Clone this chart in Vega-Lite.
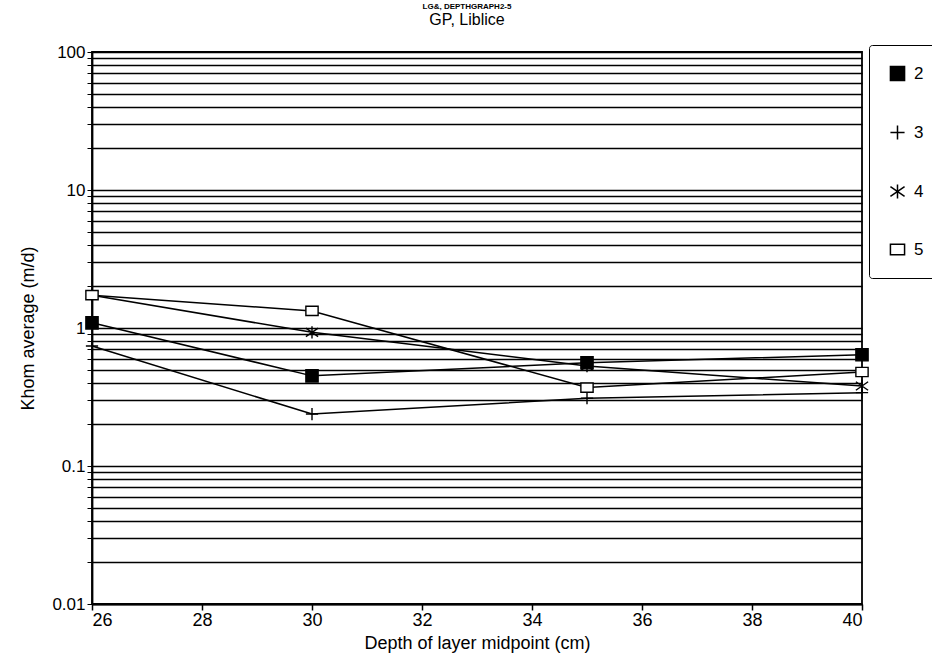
{
  "$schema": "https://vega.github.io/schema/vega-lite/v6.json",
  "autosize": "none",
  "width": 770,
  "height": 552,
  "padding": {"left": 92, "top": 52, "right": 70, "bottom": 57},
  "background": "white",
  "config": {
    "font": "Liberation Sans",
    "view": {"stroke": "black", "strokeWidth": 1.8}
  },
  "title": {
    "text": "LG&, DEPTHGRAPH2-5",
    "subtitle": "GP, Liblice",
    "fontSize": 8,
    "fontWeight": "bold",
    "subtitleFontSize": 16,
    "subtitleColor": "black",
    "color": "black",
    "offset": 15,
    "subtitlePadding": 1,
    "anchor": "middle",
    "dx": -10
  },
  "data": {
    "values": [
      {"series": "2", "depth": 26, "khom": 1.09},
      {"series": "2", "depth": 30, "khom": 0.45},
      {"series": "2", "depth": 35, "khom": 0.56},
      {"series": "2", "depth": 40, "khom": 0.64},
      {"series": "3", "depth": 26, "khom": 0.74},
      {"series": "3", "depth": 30, "khom": 0.238},
      {"series": "3", "depth": 35, "khom": 0.31},
      {"series": "3", "depth": 40, "khom": 0.34},
      {"series": "4", "depth": 26, "khom": 1.73},
      {"series": "4", "depth": 30, "khom": 0.93},
      {"series": "4", "depth": 35, "khom": 0.53},
      {"series": "4", "depth": 40, "khom": 0.38},
      {"series": "5", "depth": 26, "khom": 1.73},
      {"series": "5", "depth": 30, "khom": 1.33},
      {"series": "5", "depth": 35, "khom": 0.37},
      {"series": "5", "depth": 40, "khom": 0.48}
    ]
  },
  "encoding": {
    "x": {
      "field": "depth",
      "type": "quantitative",
      "scale": {"domain": [26, 40], "nice": false, "zero": false},
      "axis": {
        "title": "Depth of layer midpoint (cm)",
        "values": [26, 28, 30, 32, 34, 36, 38, 40],
        "format": "d",
        "grid": false,
        "domainColor": "black",
        "domainWidth": 1.8,
        "tickColor": "black",
        "tickWidth": 1.5,
        "tickSize": 6,
        "labelFontSize": 18,
        "labelColor": "black",
        "labelPadding": 1,
        "titleFontSize": 18,
        "titleFontWeight": "normal",
        "titleColor": "black",
        "titlePadding": 5
      }
    },
    "y": {
      "field": "khom",
      "type": "quantitative",
      "scale": {"type": "log", "domain": [0.01, 100], "nice": false},
      "axis": {
        "title": "Khom average (m/d)",
        "values": [0.01,0.02,0.03,0.04,0.05,0.06,0.07,0.08,0.09,0.1,0.2,0.3,0.4,0.5,0.6,0.7,0.8,0.9,1,2,3,4,5,6,7,8,9,10,20,30,40,50,60,70,80,90,100],
        "format": "~g",
        "labelExpr": "test(/^(0\\.01|0\\.1|1|10|100)$/, datum.label) ? datum.label : ''",
        "labelOverlap": false,
        "grid": true,
        "gridColor": "black",
        "gridWidth": 1.5,
        "gridOpacity": 1,
        "domainColor": "black",
        "domainWidth": 1.8,
        "tickColor": "black",
        "tickSize": 5,
        "labelFontSize": 17,
        "labelColor": "black",
        "labelPadding": 2,
        "titleFontSize": 18,
        "titleFontWeight": "normal",
        "titleColor": "black",
        "titlePadding": 14
      }
    }
  },
  "layer": [
    {
      "mark": {"type": "line", "color": "black", "strokeWidth": 1.5},
      "encoding": {"detail": {"field": "series", "type": "nominal"}}
    },
    {
      "mark": {"type": "point", "strokeWidth": 1.4, "opacity": 1, "size": 150},
      "encoding": {
        "color": {
          "field": "series",
          "type": "nominal",
          "scale": {"domain": ["2", "3", "4", "5"], "range": ["black", "black", "black", "black"]},
          "legend": {
            "title": null,
            "orient": "none",
            "legendX": 777,
            "legendY": -7,
            "padding": 20,
            "strokeColor": "black",
            "fillColor": "white",
            "cornerRadius": 3,
            "symbolSize": 200,
            "rowPadding": 38,
            "labelFontSize": 17,
            "labelColor": "black",
            "labelOffset": 8,
            "symbolStrokeWidth": 1.5
          }
        },
        "shape": {
          "field": "series",
          "type": "nominal",
          "scale": {
            "domain": ["2", "3", "4", "5"],
            "range": ["square", "M0,-1V1M-1,0H1", "M-1,-0.7L1,0.7M-1,0.7L1,-0.7M0,-1V1", "M-1,-0.75H1V0.75H-1Z"]
          },
          "legend": null
        },
        "fill": {
          "field": "series",
          "type": "nominal",
          "scale": {"domain": ["2", "3", "4", "5"], "range": ["black", "transparent", "transparent", "white"]},
          "legend": null
        }
      }
    }
  ]
}
